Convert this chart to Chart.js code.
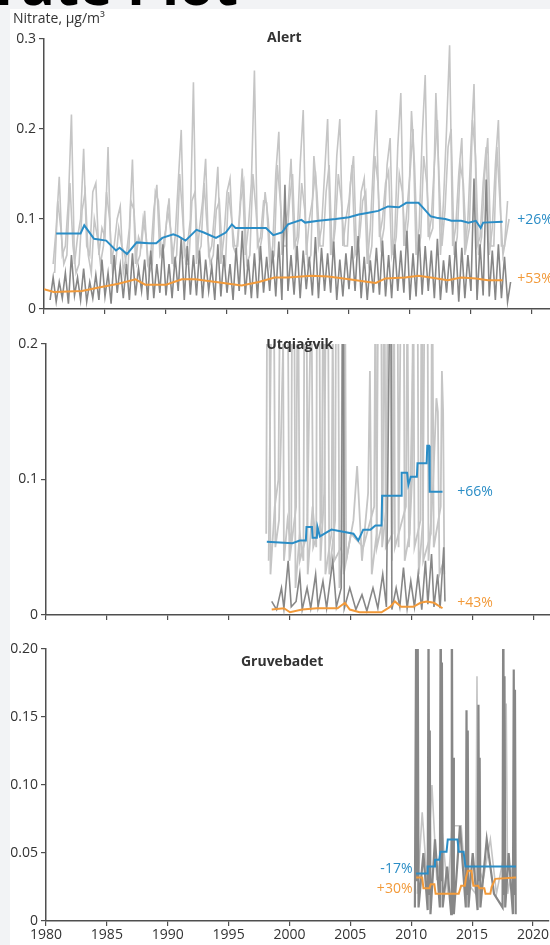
<!DOCTYPE html>
<html>
<head>
<meta charset="utf-8">
<title>Nitrate Plot</title>
<script src="https://cdn.jsdelivr.net/npm/chart.js@4.4.1/dist/chart.umd.min.js"></script>
<style>
  html, body { margin: 0; padding: 0; }
  body {
    width: 550px; height: 945px; position: relative; overflow: hidden;
    background: #f2f3f5; font-family: "Open Sans", sans-serif;
  }
  #page-title {
    position: absolute; right: 312px; top: -45px; margin: 0;
    font: 700 56px/56px "Open Sans", sans-serif; color: #000; white-space: nowrap;
  }
  #sheet { position: absolute; left: 10px; top: 9px; width: 540px; height: 936px; background: #fff; }
  #unit {
    position: absolute; left: 13px; top: 8px; font: 14px/19px "Open Sans", sans-serif; color: #333;
  }
  canvas { position: absolute; left: 10px; }
  #alert { top: 9px; }
  #utq { top: 330px; }
  #gruv { top: 630px; }
</style>
</head>
<body>
<h1 id="page-title">Nitrate Plot</h1>
<div id="sheet"></div>
<canvas id="alert" width="540" height="321"></canvas>
<canvas id="utq" width="540" height="300"></canvas>
<canvas id="gruv" width="540" height="315"></canvas>
<div id="unit">Nitrate, μg/m³</div>

<script>
// ---- shared axis values ----
const YEAR_TICKS = [1980, 1985, 1990, 1995, 2000, 2005, 2010, 2015, 2020];

// ---- Alert ----
const alertYTicks = [0, 0.1, 0.2, 0.3];
const alertYLabels = ['0', '0.1', '0.2', '0.3'];
// first sample at 1980.75, one every quarter year
const alertLightA = [
  0.05,0.09,0.147,0.06, 0.07,0.12,0.216,0.05, 0.08,0.10,0.178,0.07, 0.06,0.13,0.140,0.06,
  0.09,0.08,0.180,0.05, 0.07,0.10,0.114,0.04, 0.06,0.09,0.166,0.05, 0.08,0.07,0.109,0.05,
  0.06,0.11,0.138,0.06, 0.07,0.09,0.123,0.05, 0.08,0.14,0.199,0.06, 0.07,0.10,0.252,0.05,
  0.09,0.12,0.167,0.06, 0.07,0.11,0.158,0.05, 0.08,0.13,0.145,0.07, 0.06,0.10,0.156,0.06,
  0.09,0.14,0.265,0.07, 0.08,0.12,0.118,0.05, 0.07,0.15,0.197,0.06, 0.09,0.11,0.167,0.07,
  0.08,0.16,0.221,0.06, 0.10,0.12,0.153,0.07, 0.09,0.15,0.211,0.06, 0.08,0.17,0.211,0.07,
  0.10,0.12,0.160,0.06, 0.07,0.13,0.145,0.05, 0.09,0.16,0.221,0.08, 0.10,0.14,0.153,0.06,
  0.08,0.18,0.240,0.07, 0.11,0.15,0.200,0.06, 0.09,0.19,0.260,0.08, 0.10,0.16,0.210,0.06,
  0.12,0.20,0.293,0.07, 0.09,0.15,0.190,0.06, 0.10,0.18,0.250,0.07, 0.08,0.14,0.180,0.06,
  0.09,0.16,0.210,0.07, 0.07,0.12
];
// first sample at 1980.875
const alertLightB = [
  0.04,0.12,0.09,0.05, 0.06,0.14,0.07,0.04, 0.05,0.11,0.13,0.06, 0.04,0.10,0.08,0.05,
  0.07,0.13,0.10,0.04, 0.05,0.09,0.07,0.06, 0.04,0.12,0.11,0.05, 0.06,0.10,0.08,0.04,
  0.05,0.13,0.12,0.06, 0.07,0.11,0.09,0.05, 0.06,0.15,0.10,0.05, 0.05,0.12,0.13,0.06,
  0.07,0.14,0.09,0.05, 0.06,0.11,0.12,0.06, 0.05,0.13,0.10,0.07, 0.07,0.12,0.14,0.05,
  0.06,0.15,0.11,0.06, 0.08,0.13,0.10,0.05, 0.06,0.16,0.12,0.07, 0.07,0.12,0.15,0.06,
  0.08,0.14,0.11,0.05, 0.06,0.17,0.13,0.07, 0.07,0.13,0.16,0.06, 0.09,0.15,0.12,0.07,
  0.07,0.14,0.17,0.06, 0.08,0.12,0.13,0.05, 0.07,0.17,0.14,0.07, 0.09,0.16,0.19,0.06,
  0.08,0.15,0.13,0.07, 0.10,0.22,0.16,0.06, 0.08,0.17,0.14,0.08, 0.09,0.24,0.15,0.07,
  0.11,0.18,0.20,0.06, 0.08,0.16,0.14,0.07, 0.09,0.21,0.17,0.06, 0.08,0.15,0.19,0.07,
  0.07,0.18,0.12,0.06, 0.08,0.10
];
// first sample at 1980.5
const alertDark = [
  0.010,0.035,0.008,0.030, 0.012,0.040,0.006,0.060, 0.015,0.035,0.010,0.045, 0.008,0.030,0.012,0.038,
  0.010,0.055,0.014,0.040, 0.006,0.060,0.018,0.048, 0.012,0.050,0.010,0.062, 0.015,0.045,0.020,0.055,
  0.010,0.065,0.012,0.050, 0.018,0.072,0.015,0.050, 0.012,0.058,0.020,0.079, 0.010,0.070,0.016,0.060,
  0.015,0.065,0.012,0.055, 0.020,0.048,0.010,0.072, 0.014,0.060,0.018,0.050, 0.010,0.068,0.020,0.087,
  0.016,0.055,0.012,0.062, 0.012,0.070,0.018,0.058, 0.020,0.065,0.014,0.075, 0.010,0.138,0.020,0.060,
  0.016,0.070,0.012,0.065, 0.022,0.058,0.015,0.080, 0.012,0.068,0.020,0.062, 0.018,0.075,0.010,0.055,
  0.014,0.062,0.022,0.070, 0.020,0.081,0.012,0.058, 0.010,0.054,0.018,0.068, 0.016,0.076,0.014,0.060,
  0.012,0.072,0.020,0.065, 0.018,0.087,0.010,0.062, 0.014,0.083,0.016,0.070, 0.020,0.065,0.012,0.078,
  0.010,0.054,0.018,0.060, 0.016,0.075,0.008,0.068, 0.012,0.060,0.020,0.145, 0.010,0.072,0.015,0.144,
  0.014,0.065,0.010,0.072, 0.012,0.058,0.008,0.030
];
const alertBlueYears = [1981.0,1983.0,1983.3,1984.1,1985.1,1985.9,1986.2,1986.8,1987.6,1988.6,1989.2,1989.7,1990.6,1991.0,1991.6,1992.5,1993.1,1994.1,1994.9,1995.4,1995.7,1998.2,1998.8,1999.5,2000.0,2001.1,2001.4,2002.5,2003.9,2005.0,2005.8,2006.6,2007.4,2008.2,2009.1,2009.7,2010.7,2011.1,2011.7,2012.3,2012.9,2013.4,2014.2,2014.8,2015.4,2015.8,2016.0,2017.6];
const alertBlue      = [0.084,0.084,0.093,0.078,0.076,0.065,0.068,0.061,0.074,0.073,0.073,0.079,0.083,0.081,0.076,0.088,0.085,0.079,0.085,0.094,0.090,0.090,0.082,0.085,0.094,0.099,0.096,0.098,0.100,0.102,0.105,0.107,0.109,0.114,0.113,0.118,0.118,0.112,0.103,0.101,0.100,0.098,0.098,0.096,0.098,0.090,0.096,0.097];
const alertOrangeYears = [1980.0,1980.8,1983.1,1984.5,1986.1,1987.5,1988.3,1990.0,1991.3,1992.4,1994.1,1996.2,1997.6,1998.9,2000.0,2001.9,2003.3,2005.0,2006.6,2007.2,2008.0,2009.6,2010.7,2011.7,2013.1,2014.2,2015.4,2016.4,2017.6];
const alertOrange      = [0.022,0.019,0.020,0.024,0.028,0.033,0.027,0.027,0.033,0.033,0.030,0.026,0.030,0.035,0.035,0.037,0.036,0.033,0.030,0.029,0.034,0.035,0.037,0.035,0.032,0.035,0.034,0.032,0.032];

// ---- Utqiaġvik ----
const utqYTicks = [0, 0.1, 0.2];
const utqYLabels = ['0', '0.1', '0.2'];
const utqLightYears = [
  1998.05,1998.15,1998.30,1998.40,1998.75,1999.05,1999.25,1999.40,1999.50,1999.80,
  2000.10,2000.20,2000.32,2000.45,2000.80,2001.10,2001.20,2001.32,2001.45,2001.85,
  2002.15,2002.25,2002.38,2002.50,2002.80,2003.00,2003.10,2003.22,2003.70,2003.80,
  2003.92,2004.05,2004.40,2004.48,2004.60,2005.20,2005.50,2005.90,2006.40,2006.55,
  2006.70,2007.10,2007.30,2007.45,2007.55,2007.90,2008.10,2008.25,2008.35,2008.65,
  2008.78,2008.90,2009.15,2009.28,2009.40,2009.80,2010.30,2010.42,2010.55,2010.90,
  2011.10,2011.25,2011.35,2011.70,2012.00,2012.12,2012.25,2012.60
];
const utqLight = [
  0.06,0.30,0.25,0.03,0.08,0.10,0.32,0.30,0.04,0.07,
  0.05,0.35,0.30,0.02,0.06,0.04,0.30,0.33,0.03,0.08,
  0.05,0.38,0.30,0.04,0.09,0.30,0.28,0.03,0.07,0.32,
  0.30,0.02,0.05,0.34,0.04,0.07,0.11,0.04,0.09,0.18,
  0.03,0.06,0.36,0.32,0.05,0.08,0.40,0.35,0.04,0.30,
  0.33,0.05,0.32,0.38,0.04,0.06,0.30,0.33,0.03,0.07,
  0.35,0.30,0.04,0.09,0.16,0.15,0.03,0.04
];
const utqLightBYears = [
  1998.25,1998.55,1998.65,1998.80,1999.10,1999.70,1999.80,1999.95,2000.50,2000.65,
  2000.80,2001.40,2001.75,2001.90,2002.60,2002.75,2002.90,2003.40,2003.50,2003.62,
  2004.20,2004.30,2004.40,2005.00,2006.00,2006.90,2007.00,2007.12,2007.60,2007.72,
  2007.85,2008.40,2008.50,2008.60,2009.50,2009.62,2009.75,2010.00,2010.10,2010.20,
  2010.70,2010.80,2010.92,2011.55,2011.65,2011.78,2012.35,2012.45,2012.55,2012.65
];
const utqLightB = [
  0.04,0.30,0.28,0.05,0.07,0.30,0.27,0.04,0.08,0.28,
  0.04,0.06,0.25,0.05,0.07,0.30,0.03,0.06,0.22,0.04,
  0.05,0.26,0.03,0.06,0.05,0.08,0.25,0.05,0.07,0.30,
  0.05,0.06,0.32,0.05,0.08,0.24,0.05,0.10,0.28,0.05,
  0.07,0.30,0.04,0.06,0.28,0.05,0.08,0.18,0.15,0.03
];
const utqDarkYears = [
  1998.50,1998.90,1999.30,1999.50,1999.85,2000.10,2000.50,2000.80,2001.00,2001.40,
  2001.70,2002.10,2002.30,2002.70,2003.00,2003.50,2003.80,2004.20,2004.35,2004.45,
  2004.90,2005.40,2005.90,2006.30,2006.80,2007.20,2007.60,2007.90,2008.25,2008.35,
  2008.70,2009.00,2009.30,2009.60,2009.90,2010.20,2010.50,2010.80,2011.10,2011.30,
  2011.60,2011.80,2012.10,2012.30,2012.60,2012.70
];
const utqDark = [
  0.010,0.004,0.020,0.005,0.040,0.006,0.010,0.030,0.004,0.020,
  0.005,0.030,0.006,0.025,0.005,0.040,0.006,0.020,0.300,0.005,
  0.020,0.004,0.015,0.003,0.020,0.005,0.030,0.006,0.300,0.004,
  0.020,0.006,0.035,0.005,0.025,0.006,0.030,0.004,0.040,0.008,
  0.045,0.006,0.030,0.005,0.050,0.010
];
const utqBlueYears = [1998.1,2000.2,2000.8,2001.3,2001.35,2001.8,2001.85,2002.2,2002.25,2002.45,2003.0,2003.4,2005.2,2005.6,2006.0,2006.6,2007.0,2007.5,2007.55,2009.1,2009.15,2009.6,2009.7,2009.9,2010.4,2010.45,2011.2,2011.25,2011.4,2011.45,2012.5];
const utqBlue      = [0.054,0.053,0.055,0.055,0.065,0.065,0.057,0.057,0.065,0.058,0.061,0.063,0.060,0.055,0.063,0.063,0.066,0.066,0.088,0.088,0.105,0.105,0.096,0.102,0.102,0.112,0.112,0.125,0.125,0.091,0.091];
const utqOrangeYears = [1998.5,1999.5,2000.0,2001.0,2002.2,2003.9,2004.5,2004.9,2005.7,2007.5,2008.2,2008.6,2009.1,2010.1,2010.7,2011.2,2011.8,2012.5];
const utqOrange      = [0.004,0.005,0.002,0.004,0.005,0.005,0.009,0.004,0.002,0.002,0.006,0.010,0.006,0.006,0.009,0.010,0.009,0.005];

// ---- Gruvebadet ----
const gruvYTicks = [0, 0.05, 0.10, 0.15, 0.20];
const gruvYLabels = ['0', '0.05', '0.10', '0.15', '0.20'];
const gruvDarkYears = [
  2010.30,2010.40,2010.48,2010.52,2010.60,2011.00,2011.35,2011.42,2011.48,2011.52,
  2011.58,2011.95,2012.35,2012.42,2012.48,2012.52,2012.58,2012.95,2013.28,2013.33,
  2013.40,2013.44,2013.50,2014.00,2014.48,2014.54,2014.60,2014.64,2014.70,2015.05,
  2015.45,2015.52,2015.58,2015.62,2015.68,2016.20,2016.80,2017.50,2017.56,2017.62,
  2017.66,2017.72,2018.00,2018.35,2018.42,2018.48,2018.52,2018.58
];
const gruvDark = [
  0.010,0.210,0.030,0.250,0.010,0.050,0.008,0.220,0.020,0.140,
  0.005,0.060,0.010,0.250,0.030,0.190,0.010,0.040,0.005,0.260,
  0.020,0.120,0.005,0.070,0.010,0.155,0.020,0.140,0.010,0.050,
  0.008,0.159,0.030,0.120,0.010,0.060,0.020,0.010,0.260,0.020,
  0.180,0.010,0.050,0.005,0.185,0.020,0.170,0.005
];
const gruvLightYears = [2010.50,2010.90,2011.30,2011.70,2012.10,2012.60,2013.00,2013.35,2014.10,2014.45,2015.30,2015.40,2015.50,2015.90,2016.50,2017.00,2017.65,2017.80,2017.92,2018.30,2018.55];
const gruvLight      = [0.020,0.080,0.030,0.100,0.030,0.060,0.020,0.070,0.070,0.030,0.020,0.180,0.040,0.030,0.060,0.020,0.050,0.160,0.020,0.040,0.020];
const gruvBlueYears = [2010.4,2011.3,2011.35,2011.9,2011.95,2012.3,2012.4,2012.9,2013.0,2013.8,2013.9,2014.3,2014.45,2018.6];
const gruvBlue      = [0.035,0.035,0.040,0.040,0.045,0.045,0.051,0.051,0.060,0.060,0.051,0.051,0.040,0.040];
const gruvOrangeYears = [2010.4,2010.9,2011.0,2011.5,2011.6,2011.9,2012.0,2013.9,2014.1,2014.4,2014.5,2014.65,2014.95,2015.1,2015.5,2015.6,2016.0,2016.1,2016.5,2016.6,2016.9,2018.6];
const gruvOrange      = [0.032,0.032,0.024,0.024,0.027,0.027,0.020,0.020,0.026,0.026,0.032,0.037,0.037,0.026,0.026,0.024,0.024,0.020,0.020,0.025,0.031,0.032];

// ---- styling ----
const LIGHT = '#c5c5c5';
const DARK = '#878787';
const BLUE = '#2a8dc6';
const ORANGE = '#f29a3a';
const TEXT = '#333333';
const AXIS = '#4f4f4f';
const FONT = '"Open Sans", sans-serif';

function series(start, step, values) {
  return values.map((v, i) => ({ x: +(start + i * step).toFixed(4), y: v }));
}
function pairs(xs, ys) {
  return xs.map((x, i) => ({ x: x, y: ys[i] }));
}

// draws panel names and change percentages at data positions
const panelText = {
  id: 'panelText',
  afterDatasetsDraw(chart, args, opts) {
    const { ctx } = chart;
    const xs = chart.scales.x, ys = chart.scales.y;
    (opts.items || []).forEach(it => {
      ctx.save();
      ctx.font = (it.bold ? '700 ' : '400 ') + '14px ' + FONT;
      ctx.fillStyle = it.color;
      ctx.textAlign = it.align || 'left';
      ctx.textBaseline = 'middle';
      ctx.fillText(it.text, xs.getPixelForValue(it.x), ys.getPixelForValue(it.y) + (it.dy || 0));
      ctx.restore();
    });
  }
};

function panel(id, o) {
  const gridOpts = { drawOnChartArea: false, drawTicks: true, tickLength: 5, color: AXIS, lineWidth: 1.2 };
  const borderOpts = { display: true, color: AXIS, width: 1.5 };
  // datasets listed front-to-back: the first one is painted last
  new Chart(document.getElementById(id), {
    type: 'line',
    data: {
      datasets: [
        { data: o.blue, borderColor: BLUE, borderWidth: 2 },
        { data: o.orange, borderColor: ORANGE, borderWidth: 2 },
        ...o.dark.map(d => ({ data: d, borderColor: DARK, borderWidth: o.darkWidth || 1.6 })),
        ...o.light.map(d => ({ data: d, borderColor: LIGHT, borderWidth: o.lightWidth || 1.6 }))
      ]
    },
    options: {
      responsive: false,
      animation: false,
      devicePixelRatio: 1,
      elements: { point: { radius: 0 }, line: { tension: 0, fill: false } },
      layout: { padding: { top: o.padTop, right: 0, bottom: 0, left: 0 } },
      plugins: {
        legend: { display: false },
        tooltip: { enabled: false },
        panelText: { items: o.texts }
      },
      scales: {
        x: {
          type: 'linear', min: 1980, max: o.xMax,
          afterBuildTicks: s => { s.ticks = YEAR_TICKS.map(v => ({ value: v })); },
          afterFit: s => { s.height = o.xHeight; },
          ticks: {
            display: o.showYears, color: TEXT, padding: 1, maxRotation: 0, autoSkip: false,
            font: { family: FONT, size: 14 }, callback: v => String(v)
          },
          grid: gridOpts,
          border: borderOpts
        },
        y: {
          min: 0, max: o.yMax,
          afterBuildTicks: s => { s.ticks = o.yTicks.map(v => ({ value: v })); },
          afterFit: s => { s.width = o.yWidth; },
          ticks: {
            color: TEXT, padding: 3, font: { family: FONT, size: 14 },
            callback: (v, i) => o.yLabels[i]
          },
          grid: gridOpts,
          border: borderOpts
        }
      }
    },
    plugins: [panelText]
  });
}

panel('alert', {
  light: [series(1980.75, 0.25, alertLightA), series(1980.875, 0.25, alertLightB)],
  dark: [series(1980.5, 0.25, alertDark)],
  blue: pairs(alertBlueYears, alertBlue),
  orange: pairs(alertOrangeYears, alertOrange),
  yMax: 0.3, yTicks: alertYTicks, yLabels: alertYLabels,
  xMax: 2021.48, padTop: 30, xHeight: 21, yWidth: 34, showYears: false,
  texts: [
    { text: 'Alert', x: 1999.7, y: 0.3, dy: -1, color: TEXT, bold: true, align: 'center' },
    { text: '+26%', x: 2018.8, y: 0.099, color: BLUE },
    { text: '+53%', x: 2018.8, y: 0.033, color: ORANGE }
  ]
});

panel('utq', {
  light: [pairs(utqLightYears, utqLight), pairs(utqLightBYears, utqLightB)],
  lightWidth: 1.8,
  dark: [pairs(utqDarkYears, utqDark)],
  blue: pairs(utqBlueYears, utqBlue),
  orange: pairs(utqOrangeYears, utqOrange),
  yMax: 0.2, yTicks: utqYTicks, yLabels: utqYLabels,
  xMax: 2021.31, padTop: 14, xHeight: 15, yWidth: 36, showYears: false,
  texts: [
    { text: 'Utqiaġvik', x: 2000.8, y: 0.2, dy: 1, color: TEXT, bold: true, align: 'center' },
    { text: '+66%', x: 2013.7, y: 0.091, color: BLUE },
    { text: '+43%', x: 2013.7, y: 0.009, color: ORANGE }
  ]
});

panel('gruv', {
  light: [pairs(gruvLightYears, gruvLight)],
  dark: [pairs(gruvDarkYears, gruvDark)],
  darkWidth: 2.2,
  blue: pairs(gruvBlueYears, gruvBlue),
  orange: pairs(gruvOrangeYears, gruvOrange),
  yMax: 0.2, yTicks: gruvYTicks, yLabels: gruvYLabels,
  xMax: 2021.31, padTop: 19, xHeight: 24, yWidth: 36, showYears: true,
  texts: [
    { text: 'Gruvebadet', x: 1999.4, y: 0.2, dy: 13, color: TEXT, bold: true, align: 'center' },
    { text: '-17%', x: 2010.1, y: 0.038, color: BLUE, align: 'right' },
    { text: '+30%', x: 2010.1, y: 0.0235, color: ORANGE, align: 'right' }
  ]
});
</script>
</body>
</html>
